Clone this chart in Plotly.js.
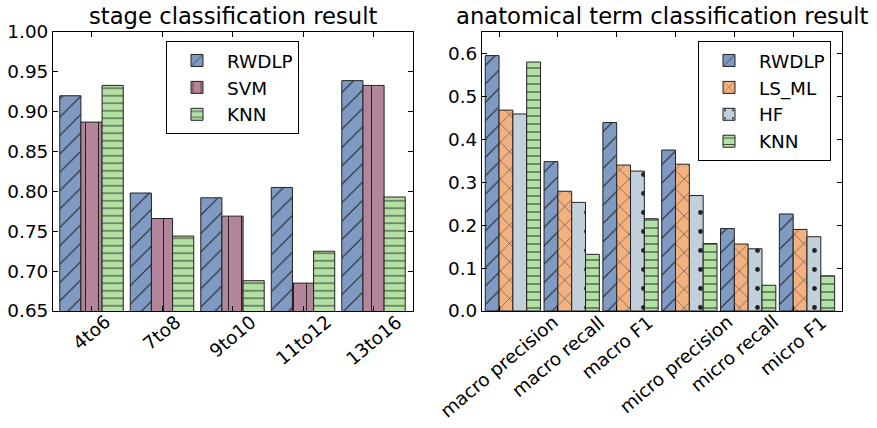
<!DOCTYPE html>
<html>
<head>
<meta charset="utf-8">
<script src="https://cdn.plot.ly/plotly-3.0.1.min.js"></script>
<style>html,body{margin:0;padding:0;background:#fff;}#chart{width:877px;height:428px;}</style>
</head>
<body>
<div id="chart"></div>
<script>
// ---- data ----
const stages = ["4to6", "7to8", "9to10", "11to12", "13to16"];
const stageRWDLP = [0.920, 0.798, 0.792, 0.805, 0.939];
const stageSVM   = [0.887, 0.766, 0.769, 0.685, 0.933];
const stageKNN   = [0.933, 0.744, 0.688, 0.725, 0.793];

const metrics = ["macro precision", "macro recall", "macro F1", "micro precision", "micro recall", "micro F1"];
const termRWDLP = [0.595, 0.348, 0.439, 0.375, 0.192, 0.226];
const termLSML  = [0.468, 0.279, 0.340, 0.342, 0.156, 0.190];
const termHF    = [0.459, 0.253, 0.326, 0.269, 0.145, 0.173];
const termKNN   = [0.580, 0.132, 0.215, 0.157, 0.060, 0.082];

const leftTitle = "stage classification result";
const rightTitle = "anatomical term classification result";

// ---- styles ----
const FONT = "DejaVu Sans, Liberation Sans, sans-serif";
const EDGE = {color: "#222", width: 1};
const HATCH = "#222";
const C = {rwdlp: "#7f9ac3", svm: "#b3859a", knn: "#b3e1a3", lsml: "#f2b17f", hf: "#c1d0d9"};

function bar(name, x, y, color, pat, off, w, xa, ya, leg, grp) {
  return {
    type: "bar", name: name, x: x, y: y, width: w, offset: off,
    xaxis: xa, yaxis: ya, legend: leg, legendgroup: grp,
    marker: {color: color, line: EDGE,
      pattern: Object.assign({fgcolor: HATCH, bgcolor: color, fillmode: "replace"}, pat)},
    hoverinfo: "skip"
  };
}

const lw = 0.3;
const rw = 0.235;
const traces = [
  bar("RWDLP", stages, stageRWDLP, C.rwdlp, {shape: "/", size: 13, solidity: 0.08}, -1.5*lw, lw, "x", "y", "legend", "a1"),
  bar("SVM",   stages, stageSVM,   C.svm,   {shape: "|", size: 13, solidity: 0.08}, -0.5*lw, lw, "x", "y", "legend", "a2"),
  bar("KNN",   stages, stageKNN,   C.knn,   {shape: "-", size: 7.5, solidity: 0.12}, 0.5*lw, lw, "x", "y", "legend", "a3"),
  bar("RWDLP", metrics, termRWDLP, C.rwdlp, {shape: "/", size: 13, solidity: 0.08}, -rw, rw, "x2", "y2", "legend2", "b1"),
  bar("LS_ML", metrics, termLSML,  C.lsml,  {shape: "x", size: 13, solidity: 0.07}, 0, rw, "x2", "y2", "legend2", "b2"),
  bar("HF",    metrics, termHF,    C.hf,    {shape: ".", size: 19, solidity: 0.05}, rw, rw, "x2", "y2", "legend2", "b3"),
  bar("KNN",   metrics, termKNN,   C.knn,   {shape: "-", size: 8, solidity: 0.12}, 2*rw, rw, "x2", "y2", "legend2", "b4")
];

const H = 428, W = 877;
const yDom = [(H - 311) / H, (H - 32) / H];
const x1Dom = [53 / W, 413 / W];
const x2Dom = [482 / W, 842 / W];

const axBase = {
  showline: true, linecolor: "#000", linewidth: 1, mirror: "ticks",
  ticks: "inside", ticklen: 5, tickcolor: "#000", tickwidth: 1,
  showgrid: false, zeroline: false, fixedrange: true,
  tickfont: {family: FONT, size: 18.4, color: "#000"}
};

const annotations = [];
function addTitle(text, dom) {
  annotations.push({text: text, xref: "paper", yref: "paper", x: (dom[0] + dom[1]) / 2, y: (H - 31) / H,
    xanchor: "center", yanchor: "bottom", showarrow: false, font: {family: FONT, size: 22.7, color: "#000"}});
}
addTitle(leftTitle, x1Dom);
addTitle(rightTitle, x2Dom);
const tickFont = {family: FONT, size: 18.4, color: "#000"};
stages.forEach(s => annotations.push({text: s, xref: "x", yref: "paper", x: s, y: (H - 310) / H,
  xanchor: "center", yanchor: "top", textangle: -40, showarrow: false, borderpad: 0, font: tickFont}));
metrics.forEach(s => annotations.push({text: s, xref: "x2", yref: "paper", x: s, y: (H - 310) / H,
  xanchor: "center", yanchor: "top", textangle: -40, showarrow: false, borderpad: 0, font: tickFont}));

const legBase = {
  xanchor: "left", yanchor: "top", bgcolor: "#fff", bordercolor: "#000", borderwidth: 1,
  font: {family: FONT, size: 18.4, color: "#000"}, tracegroupgap: 0, traceorder: "grouped",
  itemwidth: 50
};

const layout = {
  width: W, height: H, margin: {l: 0, r: 0, t: 0, b: 0},
  paper_bgcolor: "#fff", plot_bgcolor: "#fff",
  barmode: "overlay",
  showlegend: true,
  xaxis: Object.assign({}, axBase, {domain: x1Dom, anchor: "y", type: "category", range: [-0.546, 4.56], showticklabels: false}),
  yaxis: Object.assign({}, axBase, {domain: yDom, anchor: "x", range: [0.65, 1.0], dtick: 0.05, tick0: 0.65, tickformat: ".2f"}),
  xaxis2: Object.assign({}, axBase, {domain: x2Dom, anchor: "y2", type: "category", range: [-0.29, 5.83], showticklabels: false}),
  yaxis2: Object.assign({}, axBase, {domain: yDom, anchor: "x2", range: [0, 0.65], dtick: 0.1, tick0: 0, tickformat: ".1f"}),
  legend: Object.assign({}, legBase, {x: 166 / W, y: (H - 41) / H}),
  legend2: Object.assign({}, legBase, {x: 698 / W, y: (H - 41) / H}),
  annotations: annotations
};

Plotly.newPlot("chart", traces, layout, {staticPlot: true, displayModeBar: false});
</script>
</body>
</html>
